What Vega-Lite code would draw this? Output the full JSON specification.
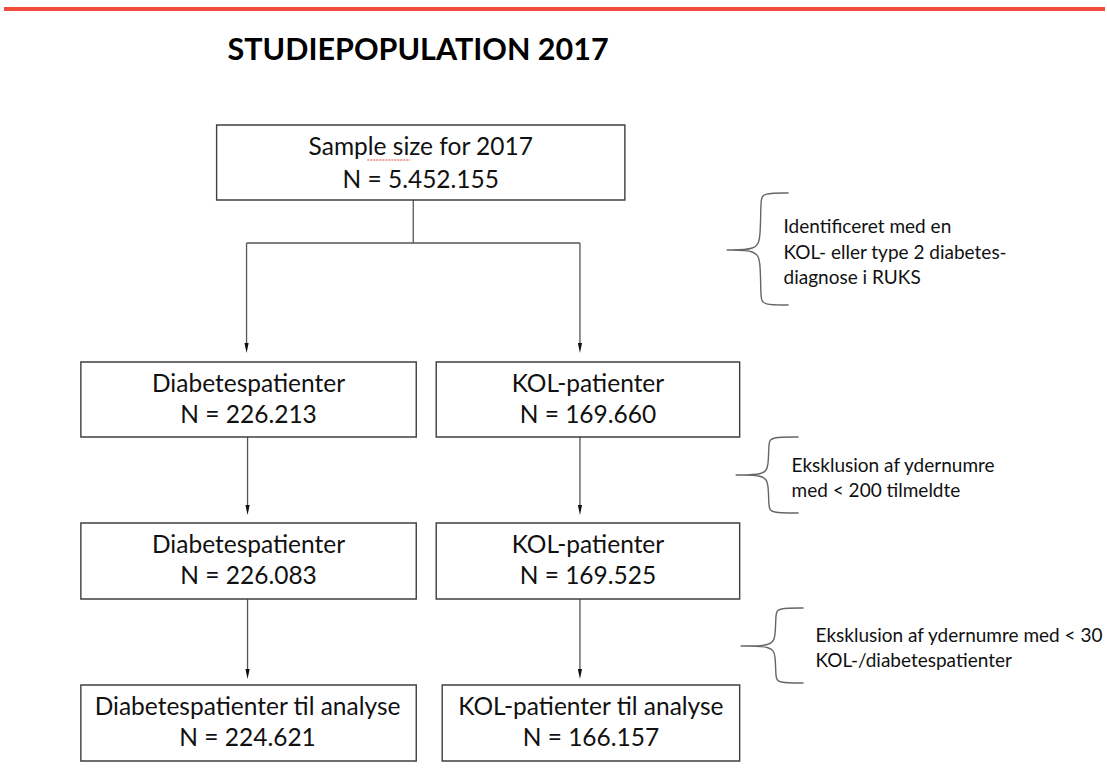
{
  "$schema": "https://vega.github.io/schema/vega-lite/v6.json",
  "width": 1107,
  "height": 782,
  "padding": 0,
  "autosize": {"type": "fit", "contains": "padding"},
  "background": "white",
  "config": {"view": {"stroke": null}},
  "datasets": {
    "redline": [{"x": 4, "x2": 1107, "y": 9}],
    "boxes": [
      {"id": "b1", "x": 217, "x2": 626, "y": 125, "y2": 200},
      {"id": "b2l", "x": 81, "x2": 417, "y": 362, "y2": 437},
      {"id": "b2r", "x": 437, "x2": 741, "y": 362, "y2": 437},
      {"id": "b3l", "x": 81, "x2": 417, "y": 523, "y2": 599},
      {"id": "b3r", "x": 437, "x2": 741, "y": 523, "y2": 599},
      {"id": "b4l", "x": 81, "x2": 417, "y": 685, "y2": 761},
      {"id": "b4r", "x": 443, "x2": 741, "y": 685, "y2": 761}
    ],
    "connectors": [
      {"x": 414, "y": 200, "x2": 414, "y2": 243},
      {"x": 247, "y": 243, "x2": 581, "y2": 243},
      {"x": 247, "y": 243, "x2": 247, "y2": 348},
      {"x": 581, "y": 243, "x2": 581, "y2": 348},
      {"x": 248, "y": 437, "x2": 248, "y2": 510},
      {"x": 581, "y": 437, "x2": 581, "y2": 510},
      {"x": 248, "y": 599, "x2": 248, "y2": 674},
      {"x": 581, "y": 599, "x2": 581, "y2": 674}
    ],
    "arrows": [
      {"x": 247, "y": 353},
      {"x": 581, "y": 353},
      {"x": 248, "y": 515},
      {"x": 581, "y": 515},
      {"x": 248, "y": 679},
      {"x": 581, "y": 679}
    ],
    "boxtext": [
      {"x": 421.5, "y": 155, "t": "Sample size for 2017"},
      {"x": 421.5, "y": 188, "t": "N = 5.452.155"},
      {"x": 249, "y": 392, "t": "Diabetespatienter"},
      {"x": 249, "y": 423, "t": "N = 226.213"},
      {"x": 589, "y": 392, "t": "KOL-patienter"},
      {"x": 589, "y": 423, "t": "N = 169.660"},
      {"x": 249, "y": 553, "t": "Diabetespatienter"},
      {"x": 249, "y": 584, "t": "N = 226.083"},
      {"x": 589, "y": 553, "t": "KOL-patienter"},
      {"x": 589, "y": 584, "t": "N = 169.525"},
      {"x": 248, "y": 715, "t": "Diabetespatienter til analyse"},
      {"x": 248, "y": 746, "t": "N = 224.621"},
      {"x": 592, "y": 715, "t": "KOL-patienter til analyse"},
      {"x": 592, "y": 746, "t": "N = 166.157"}
    ],
    "notes": [
      {"x": 785, "y": 233, "t": "Identificeret med en"},
      {"x": 785, "y": 259, "t": "KOL- eller type 2 diabetes-"},
      {"x": 785, "y": 284, "t": "diagnose i RUKS"},
      {"x": 793, "y": 472, "t": "Eksklusion af ydernumre"},
      {"x": 793, "y": 497, "t": "med < 200 tilmeldte"},
      {"x": 817, "y": 642, "t": "Eksklusion af ydernumre med < 30"},
      {"x": 817, "y": 667, "t": "KOL-/diabetespatienter"}
    ],
    "title": [{"x": 228, "y": 60, "t": "STUDIEPOPULATION 2017"}],
    "squiggle": [{"x": 368, "x2": 411, "y": 160}],
    "braces": [
      {"b": 1, "s": 1, "x": 790, "y": 193}, {"b": 1, "s": 2, "x": 790, "y": 193},
      {"b": 1, "s": 3, "x": 764, "y": 193}, {"b": 1, "s": 4, "x": 762, "y": 200},
      {"b": 1, "s": 5, "x": 762, "y": 238}, {"b": 1, "s": 6, "x": 758, "y": 250},
      {"b": 1, "s": 7, "x": 728, "y": 250}, {"b": 1, "s": 8, "x": 728, "y": 250},
      {"b": 1, "s": 9, "x": 728, "y": 250}, {"b": 1, "s": 10, "x": 758, "y": 250},
      {"b": 1, "s": 11, "x": 762, "y": 262}, {"b": 1, "s": 12, "x": 762, "y": 298},
      {"b": 1, "s": 13, "x": 764, "y": 305}, {"b": 1, "s": 14, "x": 790, "y": 305},
      {"b": 1, "s": 15, "x": 790, "y": 305},
      {"b": 2, "s": 1, "x": 800, "y": 437}, {"b": 2, "s": 2, "x": 800, "y": 437},
      {"b": 2, "s": 3, "x": 772, "y": 437}, {"b": 2, "s": 4, "x": 770, "y": 443},
      {"b": 2, "s": 5, "x": 770, "y": 466}, {"b": 2, "s": 6, "x": 766, "y": 475},
      {"b": 2, "s": 7, "x": 737, "y": 475}, {"b": 2, "s": 8, "x": 737, "y": 475},
      {"b": 2, "s": 9, "x": 737, "y": 475}, {"b": 2, "s": 10, "x": 766, "y": 475},
      {"b": 2, "s": 11, "x": 770, "y": 484}, {"b": 2, "s": 12, "x": 770, "y": 507},
      {"b": 2, "s": 13, "x": 772, "y": 513}, {"b": 2, "s": 14, "x": 800, "y": 513},
      {"b": 2, "s": 15, "x": 800, "y": 513},
      {"b": 3, "s": 1, "x": 805, "y": 608}, {"b": 3, "s": 2, "x": 805, "y": 608},
      {"b": 3, "s": 3, "x": 779, "y": 608}, {"b": 3, "s": 4, "x": 777, "y": 614},
      {"b": 3, "s": 5, "x": 777, "y": 637}, {"b": 3, "s": 6, "x": 773, "y": 646},
      {"b": 3, "s": 7, "x": 742, "y": 646}, {"b": 3, "s": 8, "x": 742, "y": 646},
      {"b": 3, "s": 9, "x": 742, "y": 646}, {"b": 3, "s": 10, "x": 773, "y": 646},
      {"b": 3, "s": 11, "x": 777, "y": 655}, {"b": 3, "s": 12, "x": 777, "y": 677},
      {"b": 3, "s": 13, "x": 779, "y": 683}, {"b": 3, "s": 14, "x": 805, "y": 683},
      {"b": 3, "s": 15, "x": 805, "y": 683}
    ]
  },
  "layer": [
    {
      "data": {"name": "redline"},
      "mark": {"type": "rule", "color": "#f04b3c", "strokeWidth": 4},
      "encoding": {
        "x": {"field": "x", "type": "quantitative", "scale": {"domain": [0, 1107], "nice": false, "zero": false}, "axis": null},
        "x2": {"field": "x2"},
        "y": {"field": "y", "type": "quantitative", "scale": {"domain": [0, 782], "reverse": true, "nice": false, "zero": false}, "axis": null}
      }
    },
    {
      "data": {"name": "connectors"},
      "mark": {"type": "rule", "color": "#555555", "strokeWidth": 1.3},
      "encoding": {
        "x": {"field": "x", "type": "quantitative", "axis": null},
        "x2": {"field": "x2"},
        "y": {"field": "y", "type": "quantitative", "axis": null},
        "y2": {"field": "y2"}
      }
    },
    {
      "data": {"name": "arrows"},
      "mark": {"type": "point", "filled": true, "color": "#111111", "opacity": 1, "size": 100, "shape": "M-0.42,-1L0.42,-1L0,1Z", "yOffset": -5},
      "encoding": {
        "x": {"field": "x", "type": "quantitative", "axis": null},
        "y": {"field": "y", "type": "quantitative", "axis": null}
      }
    },
    {
      "data": {"name": "boxes"},
      "mark": {"type": "rect", "fill": "white", "stroke": "#3f3f3f", "strokeWidth": 1.4},
      "encoding": {
        "x": {"field": "x", "type": "quantitative", "axis": null},
        "x2": {"field": "x2"},
        "y": {"field": "y", "type": "quantitative", "axis": null},
        "y2": {"field": "y2"}
      }
    },
    {
      "data": {"name": "squiggle"},
      "mark": {"type": "rule", "color": "#e0403a", "strokeWidth": 1, "strokeDash": [2, 1]},
      "encoding": {
        "x": {"field": "x", "type": "quantitative", "axis": null},
        "x2": {"field": "x2"},
        "y": {"field": "y", "type": "quantitative", "axis": null}
      }
    },
    {
      "data": {"name": "boxtext"},
      "mark": {"type": "text", "font": "Lato", "fontSize": 24.5, "align": "center", "baseline": "alphabetic", "color": "#111111"},
      "encoding": {
        "x": {"field": "x", "type": "quantitative", "axis": null},
        "y": {"field": "y", "type": "quantitative", "axis": null},
        "text": {"field": "t"}
      }
    },
    {
      "data": {"name": "notes"},
      "mark": {"type": "text", "font": "Lato", "fontSize": 19, "align": "left", "baseline": "alphabetic", "color": "#111111"},
      "encoding": {
        "x": {"field": "x", "type": "quantitative", "axis": null},
        "y": {"field": "y", "type": "quantitative", "axis": null},
        "text": {"field": "t"}
      }
    },
    {
      "data": {"name": "title"},
      "mark": {"type": "text", "font": "Lato", "fontSize": 30.5, "fontWeight": "bold", "align": "left", "baseline": "alphabetic", "color": "#000000"},
      "encoding": {
        "x": {"field": "x", "type": "quantitative", "axis": null},
        "y": {"field": "y", "type": "quantitative", "axis": null},
        "text": {"field": "t"}
      }
    },
    {
      "data": {"name": "braces"},
      "mark": {"type": "line", "interpolate": "basis", "color": "#666666", "strokeWidth": 1.4},
      "encoding": {
        "x": {"field": "x", "type": "quantitative", "axis": null},
        "y": {"field": "y", "type": "quantitative", "axis": null},
        "detail": {"field": "b", "type": "nominal"},
        "order": {"field": "s", "type": "quantitative"}
      }
    }
  ]
}
